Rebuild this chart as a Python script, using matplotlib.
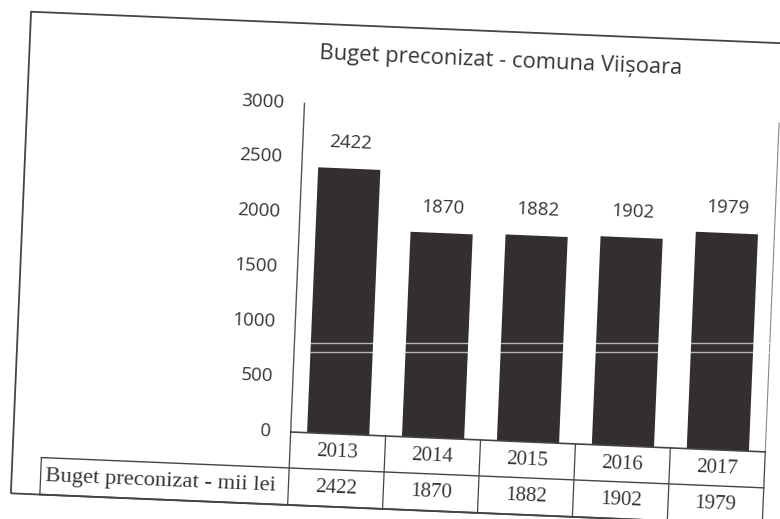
import matplotlib
matplotlib.use("Agg")
import matplotlib.pyplot as plt
from matplotlib.patches import Rectangle
from matplotlib.ticker import MultipleLocator
from matplotlib.transforms import Affine2D, offset_copy

# chart data
years = ["2013", "2014", "2015", "2016", "2017"]
budget = [2422, 1870, 1882, 1902, 1979]
row_label = "Buget preconizat - mii lei"
title = "Buget preconizat - comuna Viișoara"

W, H = 780, 519
SKEW = -2.4          # the scan is turned a little clockwise
ink = "#363636"
bar_col = "#332f31"
sans = ["Open Sans", "DejaVu Sans"]
serif = ["Liberation Serif", "DejaVu Serif"]


def fx(px):
    return px / W


def fy(py):
    return 1 - py / H


fig = plt.figure(figsize=(W / 100, H / 100), dpi=100)
fig.patch.set_facecolor("white")

# plot area (upright layout, pixel values)
left, right, top, bottom = 298, 773, 107, 436
ax = fig.add_axes([fx(left), fy(bottom), fx(right - left), (bottom - top) / H])
ax.set_xlim(-0.5, len(years) - 0.5)
ax.set_ylim(0, 3000)
ax.yaxis.set_major_locator(MultipleLocator(500))
ax.axis("off")

x = range(len(years))
ax.bar(x, budget, width=0.655, color=bar_col, linewidth=0)

# value labels above bars
lab_tr = offset_copy(ax.transData, fig=fig, x=0, y=12, units="points")
for i, v in zip(x, budget):
    ax.text(i, v, str(v), transform=lab_tr, ha="center", va="bottom",
            fontsize=13.5, color=ink, family=sans)

# y tick labels
xa = ax.get_yaxis_transform()
tick_tr = offset_copy(xa, fig=fig, x=-20, y=0, units="dots")
for t in ax.get_yticks():
    if 0 <= t <= 3000:
        ax.text(0, t, f"{t:.0f}", transform=tick_tr, ha="right", va="center",
                fontsize=13.5, color=ink, family=sans)

# axis line and right border of plot area
x0, x1 = ax.get_xlim()
ax.axvline(x0, color="#555555", lw=1.0)
ax.axvline(x1, color="#888888", lw=0.8)

# data table below the plot
ph = bottom - top
r1 = (472 - bottom) / ph
r2 = (509 - bottom) / ph
unit = (right - left) / len(years)
lab_left = x0 - (left - 50) / unit
bt = ax.get_xaxis_transform()
lc = "#444444"
ax.plot([x0, x1], [0, 0], transform=bt, color=lc, lw=1.2)
ax.plot([lab_left, x1], [-r1, -r1], transform=bt, color=lc, lw=1.0)
ax.plot([lab_left, x1], [-r2, -r2], transform=bt, color=lc, lw=1.2)
for k in range(len(years) + 1):
    ax.plot([x0 + k, x0 + k], [0, -r2], transform=bt, color=lc, lw=0.9)
ax.plot([lab_left, lab_left], [-r1, -r2], transform=bt, color=lc, lw=0.9)

for i, (yr, v) in enumerate(zip(years, budget)):
    ax.text(i, -r1 / 2, yr, transform=bt, ha="center", va="center",
            fontsize=15, color=ink, family=serif)
    ax.text(i, -(r1 + r2) / 2, str(v), transform=bt, ha="center", va="center",
            fontsize=15, color=ink, family=serif)
ax.text(lab_left + 5 / unit, -(r1 + r2) / 2, row_label, transform=bt,
        ha="left", va="center", fontsize=16.2, color=ink, family=serif)

# title and outer frame
fig.text(fx(492), fy(57), title, ha="center", va="center",
         fontsize=15.8, color=ink, family=sans)
fig.patches.append(Rectangle((fx(21), fy(509)), fx(830 - 21), (509 - 27) / H,
                             transform=fig.transFigure, fill=False,
                             ec="#444444", lw=1.3))

# turn everything by the scan angle
R = Affine2D().rotate_deg_around(W / 2, H / 2, SKEW)
for p in list(ax.patches) + list(fig.patches):
    p.set_transform(p.get_data_transform() + R)
    p.set_clip_on(False)
for ln in ax.lines:
    ln.set_transform(ln.get_transform() + R)
    ln.set_clip_on(False)
for t in list(ax.texts) + list(fig.texts):
    t.set_transform(t.get_transform() + R)
    t.set_rotation(SKEW)
    t.set_rotation_mode("anchor")
    t.set_clip_on(False)

# scanner streaks across the bars
for py in (343, 352):
    fig.add_artist(plt.Line2D([fx(300), fx(780)], [fy(py), fy(py)],
                              transform=fig.transFigure, color="white",
                              lw=1.0, alpha=0.65))

fig.savefig("out.png", dpi=100)
